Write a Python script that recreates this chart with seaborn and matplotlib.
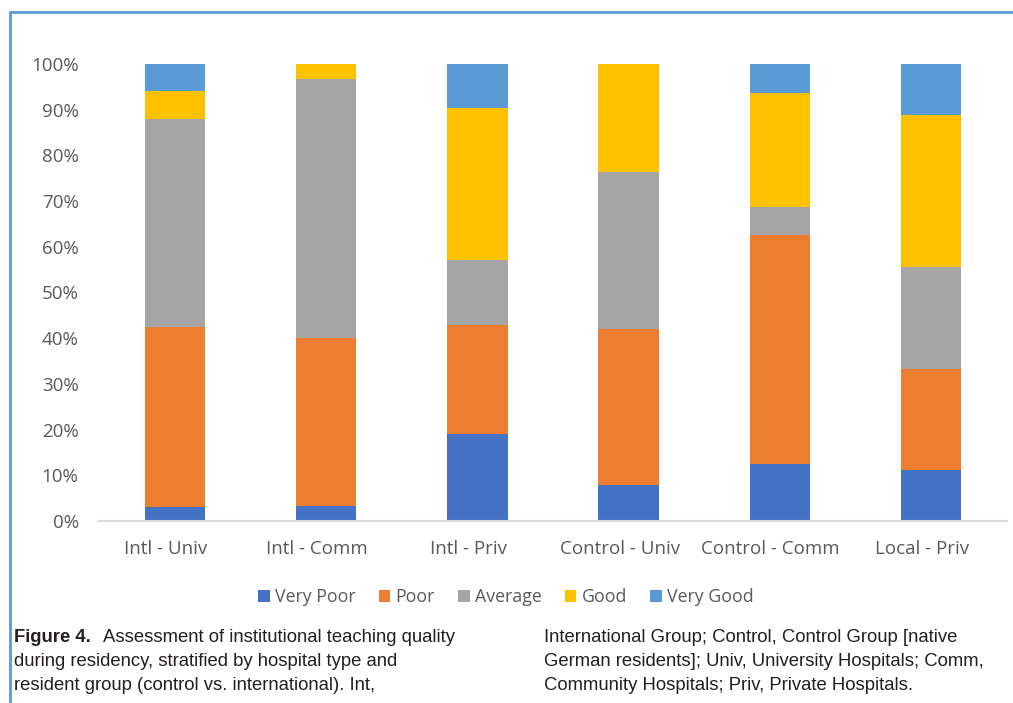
import matplotlib
matplotlib.use("Agg")
import matplotlib.pyplot as plt
import matplotlib.transforms as mtransforms
from matplotlib.patches import Patch
from matplotlib.lines import Line2D
import numpy as np
import pandas as pd
import seaborn as sns

# Share of residents (%) per rating, by resident group and hospital type
groups = ["Intl - Univ", "Intl - Comm", "Intl - Priv",
          "Control - Univ", "Control - Comm", "Local - Priv"]
ratings = ["Very Poor", "Poor", "Average", "Good", "Very Good"]
very_poor = [3.0, 3.3, 19.0, 7.9, 12.5, 11.1]
poor      = [39.4, 36.7, 23.8, 34.2, 50.0, 22.2]
average   = [45.5, 56.7, 14.3, 34.2, 6.25, 22.2]
good      = [6.1, 3.3, 33.3, 23.7, 25.0, 33.3]
very_good = [6.1, 0.0, 9.5, 0.0, 6.25, 11.1]

colors = ["#4472C4", "#ED7D31", "#A5A5A5", "#FFC000", "#5B9BD5"]
text_gray = "#595959"

sns.set_theme(style="white")
plt.rcParams["font.family"] = ["Open Sans", "DejaVu Sans"]

df = pd.DataFrame({"group": groups, "Very Poor": very_poor, "Poor": poor,
                   "Average": average, "Good": good, "Very Good": very_good})
cum = df[ratings].cumsum(axis=1) / 100.0

fig = plt.figure(figsize=(10.13, 7.03), dpi=100)
ax = fig.add_axes([0.0982, 0.2589, 0.8954, 0.6501])

# stacked bars: draw cumulative totals from the top segment down
for rating, color in reversed(list(zip(ratings, colors))):
    sns.barplot(x=df["group"], y=cum[rating], color=color, width=0.4,
                saturation=1, ax=ax, linewidth=0, order=groups)

ax.set_ylim(0, 1)
ax.set_xlim(-0.5, len(groups) - 0.5)
ax.set_yticks(np.arange(0, 1.01, 0.1))
ax.set_yticklabels([f"{int(round(v * 100))}%" for v in np.arange(0, 1.01, 0.1)])
ax.set_xlabel("")
ax.set_ylabel("")
ax.tick_params(axis="y", length=0, pad=15, labelsize=13.5, labelcolor=text_gray)
ax.tick_params(axis="x", length=0, pad=14, labelsize=13.5, labelcolor=text_gray)
shift = mtransforms.ScaledTranslation(-9 / 100, 0, fig.dpi_scale_trans)
for lbl in ax.get_xticklabels():
    lbl.set_transform(lbl.get_transform() + shift)
for s in ["top", "right", "left"]:
    ax.spines[s].set_visible(False)
ax.spines["bottom"].set_color("#D9D9D9")
ax.spines["bottom"].set_linewidth(1.5)
ax.grid(False)

handles = [Patch(facecolor=c, edgecolor="none", label=r) for r, c in zip(ratings, colors)]
leg = fig.legend(handles=handles, loc="center", bbox_to_anchor=(506 / 1013, 1 - 597 / 703),
                 ncol=5, frameon=False, fontsize=12.8, handlelength=0.65, handleheight=0.65,
                 handletextpad=0.3, columnspacing=1.3)
for t in leg.get_texts():
    t.set_color(text_gray)

# frame lines at top and left of the chart panel
frame_col = "#5B9BD5"
fig.add_artist(Line2D([10 / 1013, 10 / 1013], [0, 1 - 12 / 703], color=frame_col, lw=2))
fig.add_artist(Line2D([10 / 1013, 1], [1 - 12 / 703, 1 - 12 / 703], color=frame_col, lw=2))

# caption
cap_font = ["Liberation Sans", "DejaVu Sans"]
cap_col = "#231F20"
cap_size = 13.3
ys = [638, 662, 686]
fig.text(14 / 1013, 1 - ys[0] / 703, "Figure 4.", family=cap_font, weight="bold",
         size=cap_size, color=cap_col, va="center")
fig.text(103 / 1013, 1 - ys[0] / 703, "Assessment of institutional teaching quality",
         family=cap_font, size=cap_size, color=cap_col, va="center")
fig.text(14 / 1013, 1 - ys[1] / 703, "during residency, stratified by hospital type and",
         family=cap_font, size=cap_size, color=cap_col, va="center")
fig.text(14 / 1013, 1 - ys[2] / 703, "resident group (control vs. international). Int,",
         family=cap_font, size=cap_size, color=cap_col, va="center")
right_lines = ["International Group; Control, Control Group [native",
               "German residents]; Univ, University Hospitals; Comm,",
               "Community Hospitals; Priv, Private Hospitals."]
for y, line in zip(ys, right_lines):
    fig.text(544 / 1013, 1 - y / 703, line, family=cap_font, size=cap_size,
             color=cap_col, va="center")

fig.savefig("out.png", dpi=100, facecolor="white")
